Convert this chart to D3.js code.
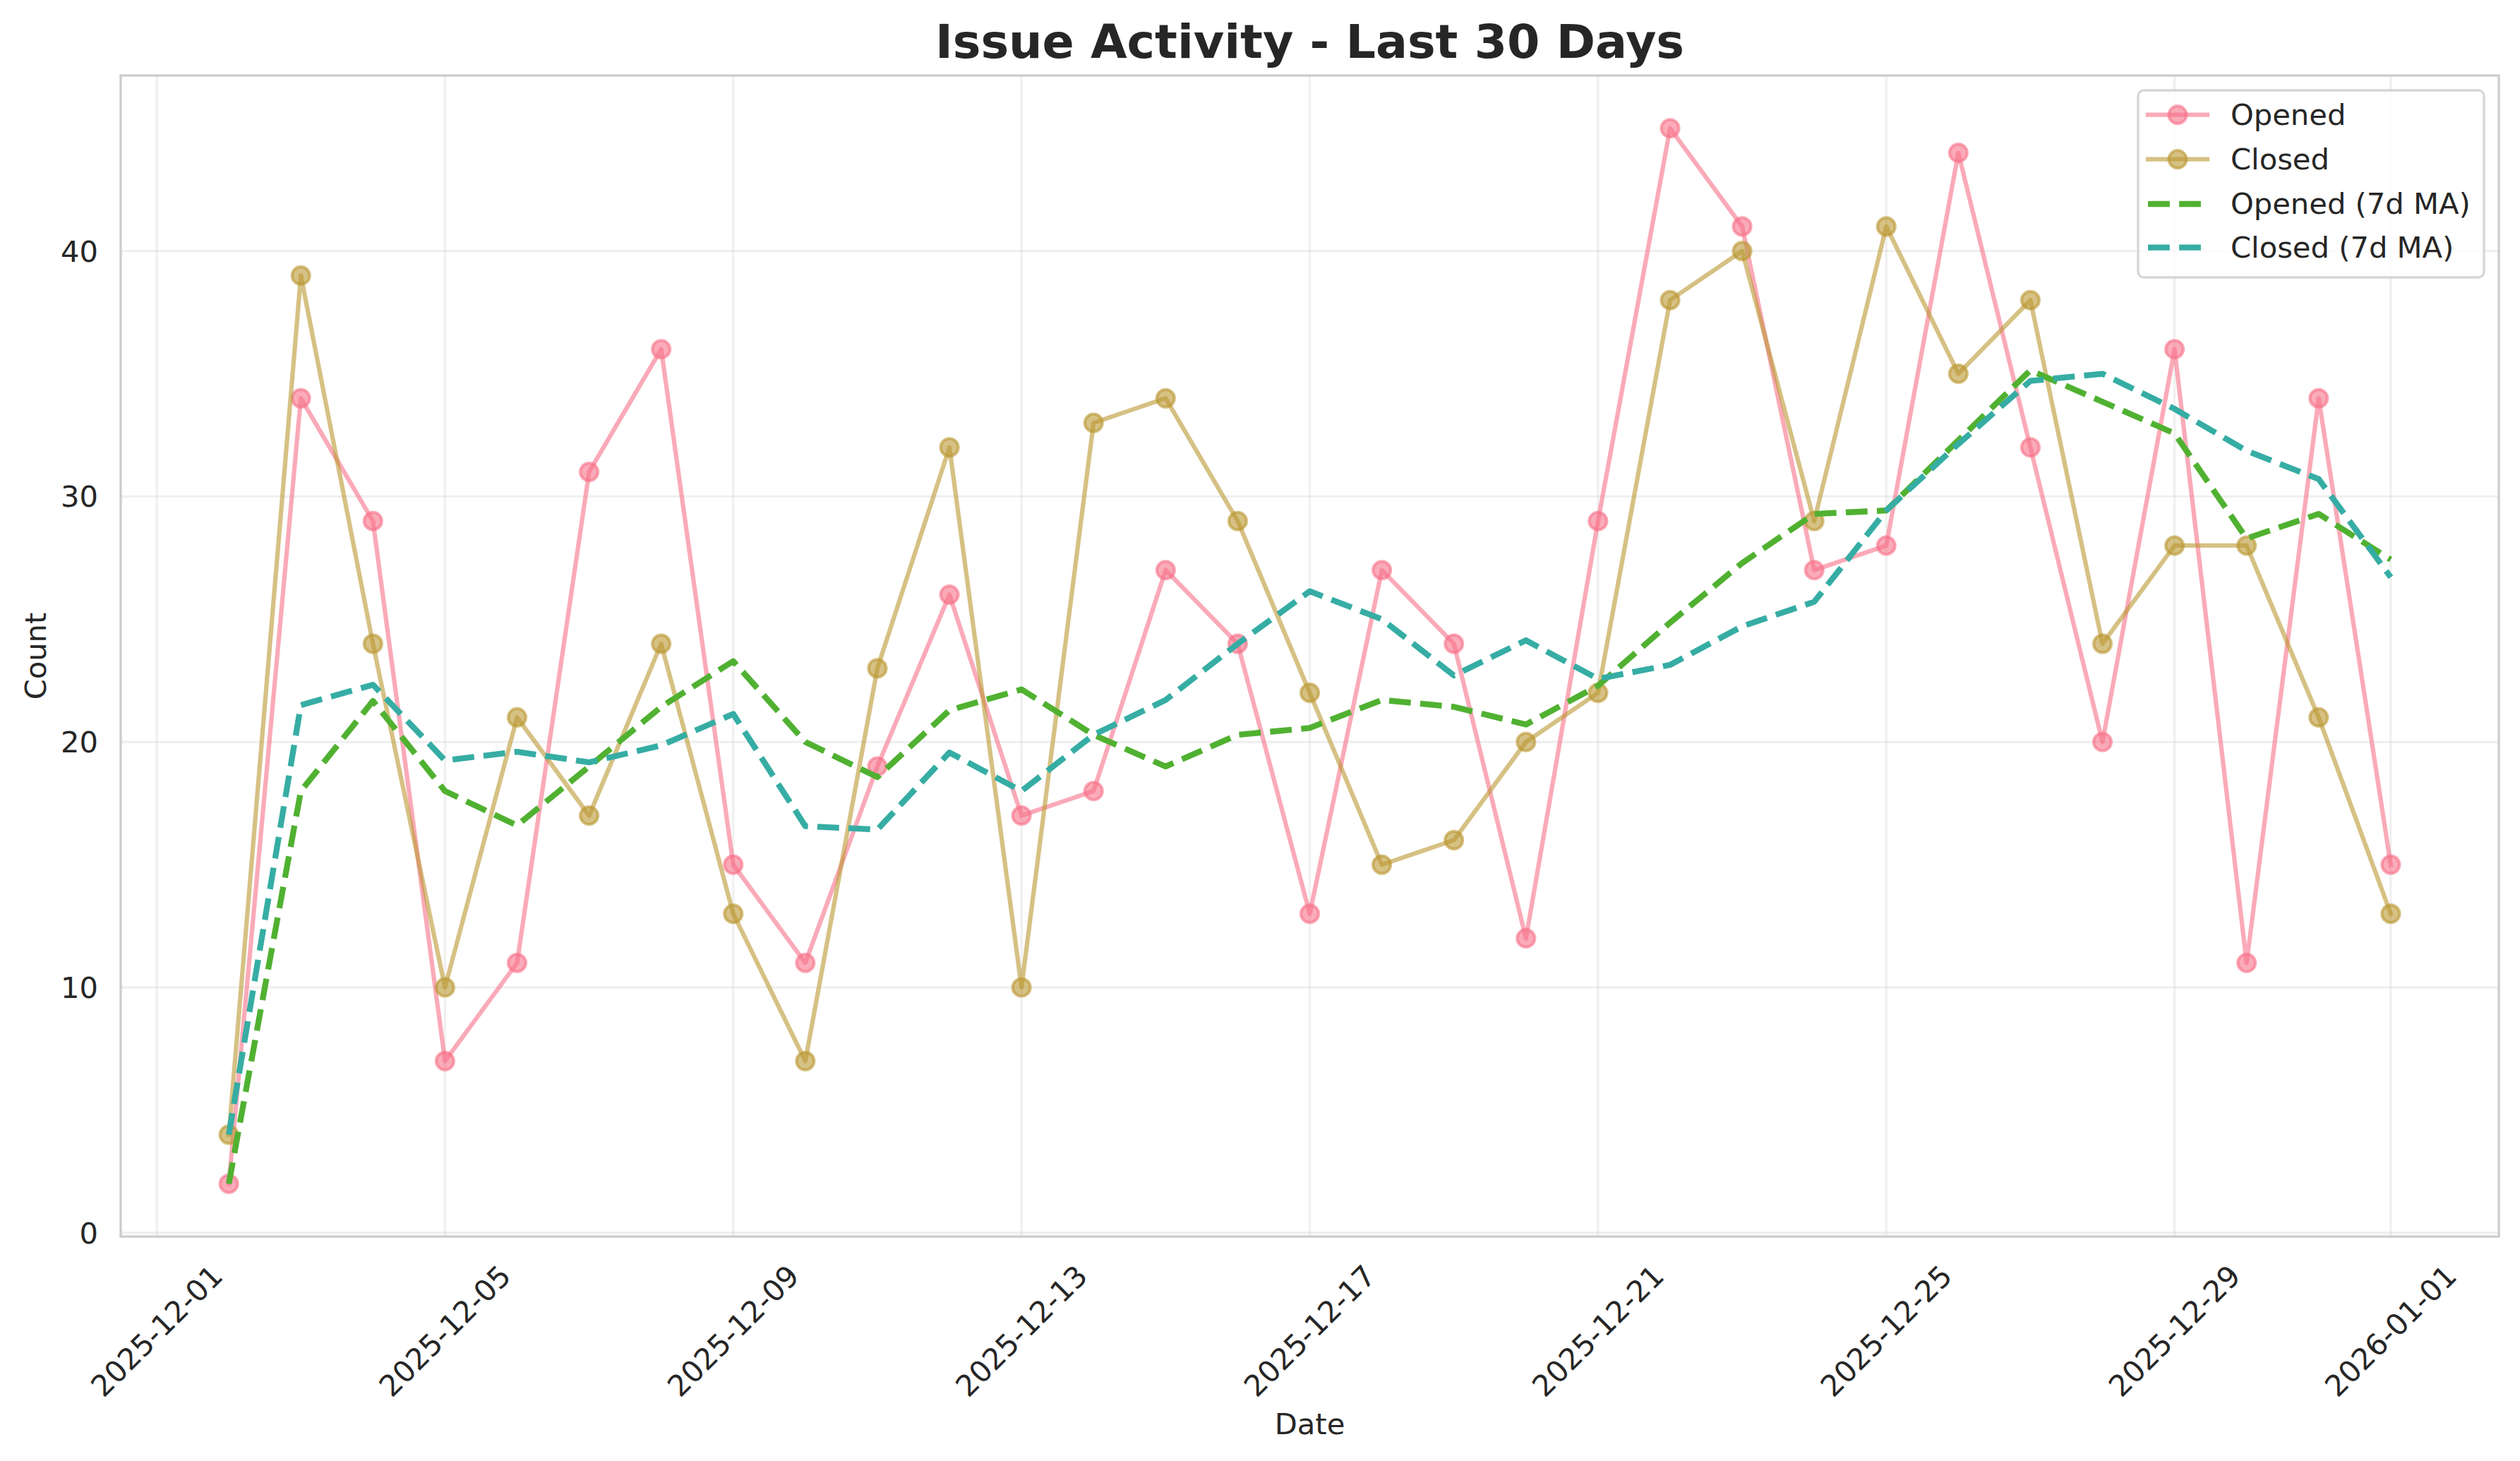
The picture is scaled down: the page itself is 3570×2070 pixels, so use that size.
<!DOCTYPE html>
<html>
<head>
<meta charset="utf-8">
<script src="https://cdn.jsdelivr.net/npm/d3@7"></script>
<style>
  html, body { margin: 0; padding: 0; background: #ffffff; }
  svg { display: block; }
  text { font-family: "DejaVu Sans", sans-serif; fill: #262626; }
</style>
</head>
<body>
<script>
// ---- data ----
const dates = ["2025-12-02","2025-12-03","2025-12-04","2025-12-05","2025-12-06","2025-12-07","2025-12-08",
  "2025-12-09","2025-12-10","2025-12-11","2025-12-12","2025-12-13","2025-12-14","2025-12-15","2025-12-16",
  "2025-12-17","2025-12-18","2025-12-19","2025-12-20","2025-12-21","2025-12-22","2025-12-23","2025-12-24",
  "2025-12-25","2025-12-26","2025-12-27","2025-12-28","2025-12-29","2025-12-30","2025-12-31","2026-01-01"];
const opened = [2,34,29,7,11,31,36,15,11,19,26,17,18,27,24,13,27,24,12,29,45,41,27,28,44,32,20,36,11,34,15];
const closed = [4,39,24,10,21,17,24,13,7,23,32,10,33,34,29,22,15,16,20,22,38,40,29,41,35,38,24,28,28,21,13];
const openedMA = [2,18,21.67,18,16.6,19,21.43,23.29,20,18.57,21.29,22.14,20.29,19,20.29,20.57,21.71,21.43,
  20.71,22.29,24.86,27.29,29.29,29.43,32.29,35.14,33.86,32.57,28.29,29.29,27.43];
const closedMA = [4,21.5,22.33,19.25,19.6,19.17,19.86,21.14,16.57,16.43,19.57,18,20.29,21.71,24,26.14,25,
  22.71,24.14,22.57,23.14,24.71,25.71,29.43,32.14,34.71,35,33.57,31.86,30.71,26.71];
const xTickLabels = ["2025-12-01","2025-12-05","2025-12-09","2025-12-13","2025-12-17","2025-12-21",
  "2025-12-25","2025-12-29","2026-01-01"];
const yTickValues = [0,10,20,30,40];
const seriesNames = ["Opened","Closed","Opened (7d MA)","Closed (7d MA)"];
const seriesColors = ["#f77189","#bb9832","#50b131","#36ada4"];

// ---- layout ----
const W = 3570, H = 2070;
const L = 171, R = 3540, T = 107, B = 1752;
const FS = 41.67;
const parse = d3.utcParse("%Y-%m-%d");
const dd = dates.map(parse);

const svg = d3.select("body").append("svg").attr("width", W).attr("height", H);
svg.append("rect").attr("width", W).attr("height", H).attr("fill", "#ffffff");

const xExt = d3.extent(dd);
const xPad = (xExt[1] - xExt[0]) * 0.05;
const x = d3.scaleUtc().domain([new Date(+xExt[0] - xPad), new Date(+xExt[1] + xPad)]).range([L, R]);
const allVals = opened.concat(closed, openedMA, closedMA);
const yMin = d3.min(allVals), yMax = d3.max(allVals);
const yPad = (yMax - yMin) * 0.05;
const y = d3.scaleLinear().domain([yMin - yPad, yMax + yPad]).range([B, T]);

const xTicks = xTickLabels.map(parse);

// grid
const grid = svg.append("g");
grid.selectAll("line.vx").data(xTicks).enter().append("line")
  .attr("x1", d => x(d)).attr("x2", d => x(d)).attr("y1", T).attr("y2", B)
  .attr("stroke", "#cccccc").attr("stroke-opacity", 0.3).attr("stroke-width", 3.33);
grid.selectAll("line.hy").data(yTickValues).enter().append("line")
  .attr("x1", L).attr("x2", R).attr("y1", d => y(d)).attr("y2", d => y(d))
  .attr("stroke", "#cccccc").attr("stroke-opacity", 0.3).attr("stroke-width", 3.33);

// lines
const lineGen = vals => d3.line().x((d, i) => x(dd[i])).y(d => y(d))(vals);
const plotG = svg.append("g");

function solidSeries(vals, color) {
  plotG.append("path").attr("d", lineGen(vals)).attr("fill", "none")
    .attr("stroke", color).attr("stroke-opacity", 0.6).attr("stroke-width", 6.25)
    .attr("stroke-linejoin", "round").attr("stroke-linecap", "square");
  plotG.append("g").selectAll("circle").data(vals).enter().append("circle")
    .attr("cx", (d, i) => x(dd[i])).attr("cy", d => y(d)).attr("r", 12.5)
    .attr("fill", color).attr("fill-opacity", 0.6)
    .attr("stroke", color).attr("stroke-opacity", 0.6).attr("stroke-width", 4.17);
}
function dashedSeries(vals, color) {
  plotG.append("path").attr("d", lineGen(vals)).attr("fill", "none")
    .attr("stroke", color).attr("stroke-width", 8.33)
    .attr("stroke-dasharray", "30.8,13.3").attr("stroke-linejoin", "round").attr("stroke-linecap", "butt");
}
solidSeries(opened, seriesColors[0]);
solidSeries(closed, seriesColors[1]);
dashedSeries(openedMA, seriesColors[2]);
dashedSeries(closedMA, seriesColors[3]);

// spines
svg.append("rect").attr("x", L).attr("y", T).attr("width", R - L).attr("height", B - T)
  .attr("fill", "none").attr("stroke", "#cccccc").attr("stroke-width", 3.33);

// y tick labels
const yAxis = svg.append("g");
yAxis.selectAll("text").data(yTickValues).enter().append("text")
  .attr("x", L - 32).attr("y", d => y(d)).attr("dy", "0.36em")
  .attr("text-anchor", "end").attr("font-size", FS).text(d => d);

// x tick labels (rotated 45, centered)
const xAxis = svg.append("g");
xTicks.forEach((d, i) => {
  const t = xAxis.append("text").attr("font-size", FS).attr("text-anchor", "middle")
    .attr("dominant-baseline", "central").text(xTickLabels[i]);
  const tw = t.node().getComputedTextLength();
  const th = 1.164 * FS;
  const bh = (tw + th) * Math.SQRT1_2;
  const cx = x(d), cy = B + 31 + bh / 2;
  t.attr("transform", `translate(${cx},${cy}) rotate(-45)`);
});

// axis labels
svg.append("text").attr("x", (L + R) / 2).attr("y", 2032).attr("text-anchor", "middle")
  .attr("font-size", FS).text("Date");
svg.append("text").attr("transform", `translate(65,${(T + B) / 2}) rotate(-90)`)
  .attr("text-anchor", "middle").attr("font-size", FS).text("Count");

// title
svg.append("text").attr("x", (L + R) / 2).attr("y", 82).attr("text-anchor", "middle")
  .attr("font-size", 66.67).attr("font-weight", "bold").text("Issue Activity - Last 30 Days");

// legend
const lg = svg.append("g");
lg.append("rect").attr("x", 3029).attr("y", 128).attr("width", 490).attr("height", 265)
  .attr("rx", 8).attr("ry", 8).attr("fill", "#ffffff").attr("fill-opacity", 0.8)
  .attr("stroke", "#cccccc").attr("stroke-opacity", 0.8).attr("stroke-width", 3.33);
const rowY = [162.7, 225.7, 289, 350.7];
const hx0 = 3043, hx1 = 3127, hxm = (hx0 + hx1) / 2;
seriesNames.forEach((name, i) => {
  const cy = rowY[i];
  if (i < 2) {
    lg.append("line").attr("x1", hx0).attr("x2", hx1).attr("y1", cy).attr("y2", cy)
      .attr("stroke", seriesColors[i]).attr("stroke-opacity", 0.6).attr("stroke-width", 6.25)
      .attr("stroke-linecap", "square");
    lg.append("circle").attr("cx", hxm).attr("cy", cy).attr("r", 12.5)
      .attr("fill", seriesColors[i]).attr("fill-opacity", 0.6)
      .attr("stroke", seriesColors[i]).attr("stroke-opacity", 0.6).attr("stroke-width", 4.17);
  } else {
    lg.append("line").attr("x1", hx0).attr("x2", hx1).attr("y1", cy).attr("y2", cy)
      .attr("stroke", seriesColors[i]).attr("stroke-width", 8.33)
      .attr("stroke-dasharray", "30.8,13.3");
  }
  lg.append("text").attr("x", 3160).attr("y", cy + 14).attr("font-size", FS).text(name);
});
</script>
</body>
</html>
